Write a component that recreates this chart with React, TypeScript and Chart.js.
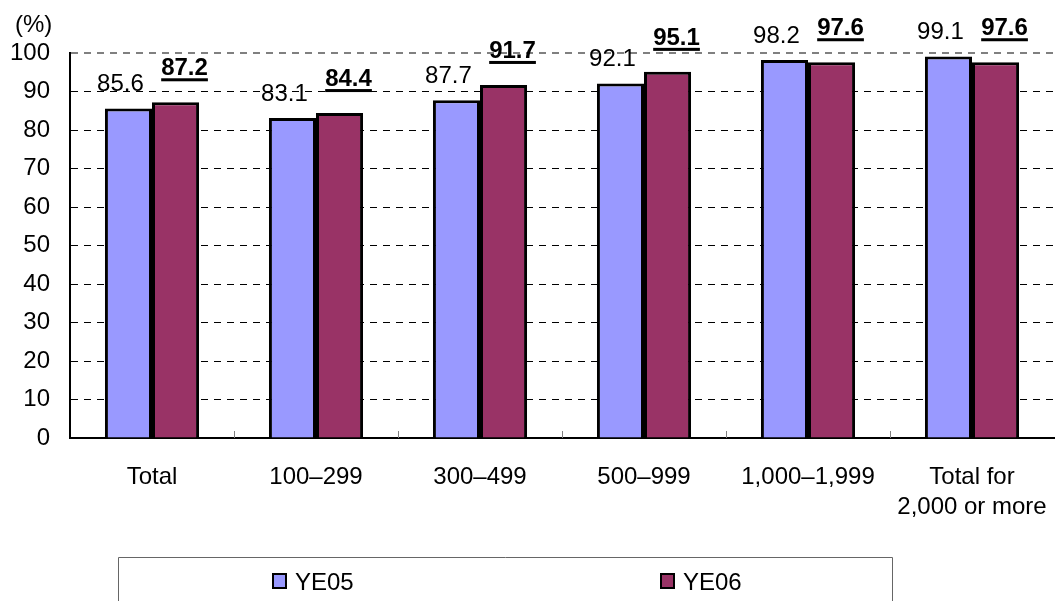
import React, { useEffect, useRef } from "react";
import { Chart, registerables } from "chart.js";

Chart.register(...registerables);

const categories: (string | string[])[] = [
  "Total",
  "100–299",
  "300–499",
  "500–999",
  "1,000–1,999",
  ["Total for", "2,000 or more"],
];
const seriesNames = ["YE05", "YE06"];
const ye05 = [85.6, 83.1, 87.7, 92.1, 98.2, 99.1];
const ye06 = [87.2, 84.4, 91.7, 95.1, 97.6, 97.6];
const yMin = 0;
const yMax = 100;
const yStep = 10;
const unitLabel = "(%)";

const FONT = "'Liberation Sans', Arial, sans-serif";
const COLOR_05 = "#9999FF";
const COLOR_06 = "#993366";

const labelPlugin = {
  id: "valueLabels",
  afterDatasetsDraw(chart: any) {
    const ctx = chart.ctx;
    ctx.save();
    chart.data.datasets.forEach((ds: any, di: number) => {
      const meta = chart.getDatasetMeta(di);
      meta.data.forEach((el: any, i: number) => {
        const v = ds.data[i] as number;
        const text = v.toFixed(1);
        const bold = di === 1;
        ctx.font = `${bold ? "bold " : ""}24px ${FONT}`;
        ctx.fillStyle = "#000";
        ctx.textAlign = "center";
        ctx.textBaseline = "alphabetic";
        const gap = bold ? 27 : 17;
        const dx = bold ? 9 : -8;
        const baseY = el.y - gap;
        const cx = el.x + dx;
        ctx.fillText(text, cx, baseY);
        if (bold) {
          const w = ctx.measureText(text).width;
          ctx.fillRect(cx - w / 2, baseY + 3, w, 3);
        }
      });
    });
    ctx.restore();
  },
};

const decorPlugin = {
  id: "decor",
  afterDraw(chart: any) {
    const ctx = chart.ctx;
    const area = chart.chartArea;
    const xScale = chart.scales.x;
    ctx.save();
    // small inner tick marks at category boundaries
    ctx.strokeStyle = "#808080";
    ctx.lineWidth = 1;
    const n = chart.data.labels.length;
    for (let i = 1; i < n; i++) {
      const x = Math.round((xScale.getPixelForValue(i - 1) + xScale.getPixelForValue(i)) / 2) + 0.5;
      ctx.beginPath();
      ctx.moveTo(x, area.bottom);
      ctx.lineTo(x, area.bottom - 7);
      ctx.stroke();
    }
    // unit label
    ctx.fillStyle = "#000";
    ctx.font = `24px ${FONT}`;
    ctx.textAlign = "left";
    ctx.textBaseline = "alphabetic";
    ctx.fillText(unitLabel, 15, 32);

    // legend box
    ctx.strokeStyle = "#666";
    ctx.lineWidth = 1;
    ctx.beginPath();
    ctx.moveTo(118.5, 620);
    ctx.lineTo(118.5, 557.5);
    ctx.lineTo(892.5, 557.5);
    ctx.lineTo(892.5, 620);
    ctx.stroke();

    const itemX = [272, 660];
    chart.data.datasets.forEach((ds: any, di: number) => {
      const x = itemX[di];
      ctx.fillStyle = ds.backgroundColor;
      ctx.fillRect(x, 573, 15, 16);
      ctx.strokeStyle = "#000";
      ctx.lineWidth = 2;
      ctx.strokeRect(x + 1, 574, 13, 14);
      ctx.fillStyle = "#000";
      ctx.font = `24px ${FONT}`;
      ctx.textAlign = "left";
      ctx.fillText(ds.label, x + 23, 590);
    });
    ctx.restore();
  },
};

export default function App() {
  const ref = useRef<HTMLCanvasElement | null>(null);

  useEffect(() => {
    if (!ref.current) return;
    const chart = new Chart(ref.current, {
      type: "bar",
      data: {
        labels: categories,
        datasets: [
          {
            label: seriesNames[0],
            data: ye05,
            backgroundColor: COLOR_05,
            borderColor: "#000",
            borderWidth: 3,
            categoryPercentage: 0.574,
            barPercentage: 1,
          },
          {
            label: seriesNames[1],
            data: ye06,
            backgroundColor: COLOR_06,
            borderColor: "#000",
            borderWidth: 3,
            categoryPercentage: 0.574,
            barPercentage: 1,
          },
        ],
      },
      options: {
        responsive: false,
        animation: false,
        layout: { padding: { top: 53, right: 2, left: 0, bottom: 0 } },
        plugins: {
          legend: { display: false },
          tooltip: { enabled: false },
        },
        scales: {
          x: {
            grid: { display: false, drawTicks: false },
            border: { display: true, color: "#000", width: 2 },
            ticks: {
              color: "#000",
              font: { family: FONT, size: 24, lineHeight: 1.25 },
              padding: 24,
              maxRotation: 0,
              autoSkip: false,
            },
            afterFit: (s: any) => {
              s.height = 163;
              s.paddingLeft = 0;
              s.paddingRight = 0;
            },
          },
          y: {
            min: yMin,
            max: yMax,
            grid: {
              drawTicks: false,
              color: (c: any) =>
                c.tick && c.tick.value === yMax
                  ? "#808080"
                  : c.tick && c.tick.value === yMin
                  ? "rgba(0,0,0,0)"
                  : "#000",
              lineWidth: (c: any) => (c.tick && c.tick.value === yMax ? 2 : 1),
            },
            border: { display: true, color: "#000", width: 2, dash: [7, 6] },
            ticks: {
              stepSize: yStep,
              color: "#000",
              font: { family: FONT, size: 24 },
              padding: 20,
            },
            afterFit: (s: any) => {
              s.width = 70;
            },
          },
        },
      },
      plugins: [labelPlugin, decorPlugin],
    });
    return () => chart.destroy();
  }, []);

  return (
    <div style={{ position: "absolute", left: 0, top: 0, width: 1056, height: 601, background: "#fff" }}>
      <canvas ref={ref} width={1056} height={601} />
    </div>
  );
}
